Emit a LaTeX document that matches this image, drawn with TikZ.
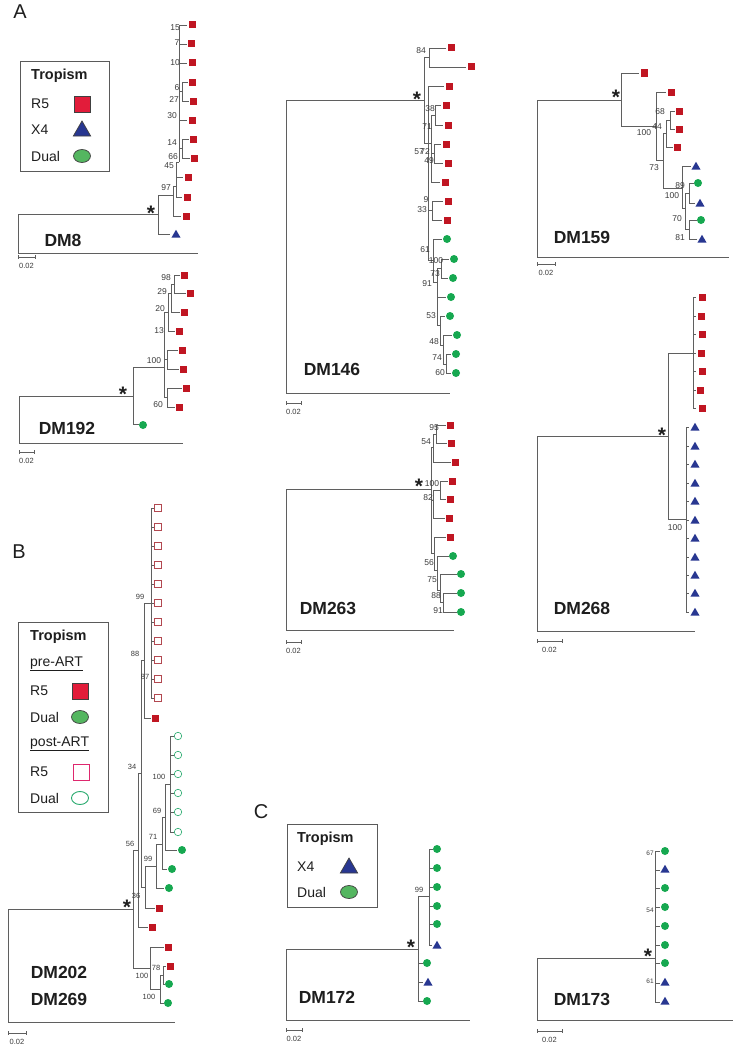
\documentclass[tikz,border=0pt]{standalone}
\usepackage{fontspec}
\setmainfont{Liberation Sans}
\usepackage{tikz}
\usetikzlibrary{shapes.geometric}

\definecolor{brgray}{RGB}{95,95,95}
\definecolor{bootgray}{RGB}{60,60,60}
\definecolor{namecol}{RGB}{30,30,30}
\definecolor{r5red}{RGB}{192,22,34}
\definecolor{x4blue}{RGB}{40,55,145}
\definecolor{dualgreen}{RGB}{22,168,80}
\definecolor{postred}{RGB}{178,72,80}
\definecolor{postgreen}{RGB}{40,170,110}
\definecolor{legred}{RGB}{226,28,58}
\definecolor{leggreen}{RGB}{84,182,96}
\definecolor{legpink}{RGB}{222,40,110}
\definecolor{legframe}{RGB}{90,90,90}

% scale bar: x, y, length, label name
\newcommand{\sbar}[4]{%
  \draw[br] (#1,#2) ++(0,-2) -- ++(0,4) ++(0,-2) -- ++(#3,0) ++(0,-2) -- ++(0,4);
  \path (#1,#2) ++(#3/2,9) node[scl] (#4) {0.02};}

\begin{document}
\begin{tikzpicture}[x=1pt,y=-1pt,
  br/.style={draw=brgray,line width=0.6pt},
  boot/.style={font=\fontsize{8.5}{8.5}\selectfont,text=bootgray,inner sep=0pt},
  bootsm/.style={font=\fontsize{7.5}{7.5}\selectfont,text=bootgray,inner sep=0pt},
  bootxs/.style={font=\fontsize{6.5}{6.5}\selectfont,text=bootgray,inner sep=0pt},
  tree/.style={font=\fontsize{17.5}{17.5}\selectfont\bfseries,text=namecol,inner sep=0pt},
  star/.style={font=\fontsize{21}{21}\selectfont\bfseries,text=namecol,inner sep=0pt},
  scl/.style={font=\fontsize{7.5}{7.5}\selectfont,text=bootgray,inner sep=0pt},
  panel/.style={font=\fontsize{20}{20}\selectfont,text=namecol,inner sep=0pt},
  r5/.style={rectangle,fill=r5red,minimum size=7pt,inner sep=0pt},
  x4/.style={regular polygon,regular polygon sides=3,fill=x4blue,minimum size=10.5pt,inner sep=0pt},
  dual/.style={circle,fill=dualgreen,minimum size=8pt,inner sep=0pt},
  r5post/.style={rectangle,draw=postred,line width=0.6pt,minimum size=6.5pt,inner sep=0pt},
  dualpost/.style={circle,draw=postgreen,line width=0.6pt,minimum size=7.5pt,inner sep=0pt},
  legbox/.style={draw=legframe,line width=0.8pt},
  legtxt/.style={font=\fontsize{14}{14}\selectfont,text=namecol,anchor=west,inner sep=0pt},
  leghead/.style={font=\fontsize{14.5}{14.5}\selectfont\bfseries,text=namecol,anchor=west,inner sep=0pt},
  legr5/.style={rectangle,fill=legred,draw=black!75,line width=0.7pt,minimum size=16pt,inner sep=0pt},
  legx4/.style={regular polygon,regular polygon sides=3,fill=x4blue,draw=black!75,line width=0.7pt,minimum size=20pt,inner sep=0pt},
  legdual/.style={ellipse,fill=leggreen,draw=black!75,line width=0.7pt,minimum width=17pt,minimum height=13pt,inner sep=0pt},
  legr5post/.style={rectangle,draw=legpink,line width=0.9pt,minimum size=16pt,inner sep=0pt},
  legdualpost/.style={ellipse,draw=postgreen,line width=0.9pt,minimum width=17pt,minimum height=13pt,inner sep=0pt}
]
\useasboundingbox[fill=white] (0,0) rectangle (738,1049);

% ---------- panel A ----------
\node[panel] (pA) at (20,12) {A};

% legend A
\draw[legbox] (20,61) rectangle (109,171);
\node[leghead] (lgA) at (31,76) {Tropism};
\node[legtxt] (lgAr) at (31,104) {R5};
\node[legtxt] (lgAx) at (31,130) {X4};
\node[legtxt] (lgAd) at (31,156) {Dual};
\node[legr5] (mkAr) at (82,104) {};
\node[legx4] (mkAx) at (82,131) {};
\node[legdual] (mkAd) at (82,156) {};

% DM8
\draw[br] (158,214) -- (18,214) -- (18,253) -- (198,253);
\draw[br] (158,195) -- (158,234) -- (170,234);
\draw[br] (158,195) -- (173,195);
\draw[br] (173,186) -- (173,216) -- (181,216);
\draw[br] (173,186) -- (176,186);
\draw[br] (176,162) -- (176,197) -- (182,197) (176,177) -- (183,177);
\draw[br] (176,162) -- (179,162) (179,25) -- (179,162);
\foreach \y in {25,44,63,120} {\draw[br] (179,\y) -- (187,\y);}
\draw[br] (179,91) -- (182,91) (182,82) -- (182,101) (182,82) -- (188,82) (182,101) -- (189,101);
\draw[br] (179,148) -- (182,148) (182,139) -- (182,158) (182,139) -- (189,139) (182,158) -- (190,158);
\foreach \x/\y [count=\i] in {192/25,191/44,192/63,192/82,193/101,192/120,193/139,194/158,188/177,187/197,186/216}
  {\node[r5] (d8s\i) at (\x,\y) {};}
\node[x4] (d8x1) at (176,235) {};
\node[star] (d8st) at (151,213) {*};
\foreach \x/\y/\t [count=\i] in {175/28/15,177/43/7,175/63/10,177/88/6,174/100/27,172/116/30,172/143/14,173/157/66,169/166/45,166/188/97}
  {\node[boot] (d8b\i) at (\x,\y) {\t};}
\node[tree] (dm8) at (63,240) {DM8};
\sbar{18}{257}{17}{sc8}

% DM192
\draw[br] (133,396) -- (19,396) -- (19,443) -- (183,443);
\draw[br] (164,367) -- (133,367) -- (133,424) -- (139,424);
\draw[br] (164,312) -- (164,397);
\draw[br] (164,312) -- (168,312) (168,293) -- (168,331) -- (175,331);
\draw[br] (168,293) -- (171,293) (171,284) -- (171,312) -- (180,312);
\draw[br] (171,284) -- (174,284) (174,275) -- (174,293) -- (186,293) (174,275) -- (180,275);
\draw[br] (164,359) -- (167,359) (167,350) -- (167,369) -- (179,369) (167,350) -- (178,350);
\draw[br] (164,397) -- (167,397) (167,388) -- (167,407) -- (175,407) (167,388) -- (182,388);
\foreach \x/\y [count=\i] in {184/275,190/293,184/312,179/331,182/350,183/369,186/388,179/407}
  {\node[r5] (d192s\i) at (\x,\y) {};}
\node[dual] (d192d1) at (143,425) {};
\node[star] (d192st) at (123,394) {*};
\foreach \x/\y/\t [count=\i] in {166/278/98,162/292/29,160/309/20,159/331/13,154/361/100,158/405/60}
  {\node[boot] (d192b\i) at (\x,\y) {\t};}
\node[tree] (dm192) at (67,428) {DM192};
\sbar{19}{452}{15}{sc192}

% DM146
\draw[br] (424,100) -- (286,100) -- (286,393) -- (450,393);
\draw[br] (424,57) -- (424,143);
\draw[br] (424,57) -- (429,57) (429,48) -- (429,67) (429,48) -- (446,48) (429,67) -- (466,67);
\draw[br] (424,143) -- (428,143) (428,86) -- (428,260) (428,86) -- (444,86);
\draw[br] (428,143) -- (431,143) (431,115) -- (431,182) -- (440,182);
\draw[br] (431,115) -- (435,115) (435,105) -- (435,125) -- (443,125) (435,105) -- (441,105);
\draw[br] (431,153) -- (434,153) (434,144) -- (434,163) -- (443,163) (434,144) -- (441,144);
\draw[br] (428,210) -- (432,210) (432,201) -- (432,220) -- (442,220) (432,201) -- (443,201);
\draw[br] (428,260) -- (433,260) (433,239) -- (433,282) (433,239) -- (442,239);
\draw[br] (433,282) -- (437,282) (437,268) -- (437,325) (437,297) -- (446,297);
\draw[br] (437,268) -- (441,268) (441,259) -- (441,278) -- (448,278) (441,259) -- (449,259);
\draw[br] (437,325) -- (440,325) (440,316) -- (440,345) (440,316) -- (445,316);
\draw[br] (440,345) -- (443,345) (443,335) -- (443,364) (443,335) -- (452,335);
\draw[br] (443,364) -- (446,364) (446,354) -- (446,373) -- (451,373) (446,354) -- (451,354);
\foreach \x/\y [count=\i] in {451/48,471/67,449/86,446/105,448/125,446/144,448/163,445/182,448/201,447/220}
  {\node[r5] (d146s\i) at (\x,\y) {};}
\foreach \x/\y [count=\i] in {447/239,454/259,453/278,451/297,450/316,457/335,456/354,456/373}
  {\node[dual] (d146d\i) at (\x,\y) {};}
\node[star] (d146st) at (417,99) {*};
\foreach \x/\y/\t [count=\i] in {421/51/84,430/109/38,427/127/71,419/152/57,425/152/72,429/161/49,426/200/9,422/210/33,
  425/250/61,436/261/100,435/274/73,427/284/91,431/316/53,434/342/48,437/358/74,440/373/60}
  {\node[boot] (d146b\i) at (\x,\y) {\t};}
\node[tree] (dm146) at (332,369) {DM146};
\sbar{286}{403}{15}{sc146}

% DM263
\draw[br] (431,489) -- (286,489) -- (286,630) -- (454,630);
\draw[br] (431,447) -- (431,553);
\draw[br] (431,447) -- (433,447) (433,434) -- (433,462) -- (451,462);
\draw[br] (433,434) -- (436,434) (436,425) -- (436,443) -- (447,443) (436,425) -- (446,425);
\draw[br] (431,500) -- (433,500) (433,490) -- (433,518) -- (445,518);
\draw[br] (433,490) -- (440,490) (440,481) -- (440,499) -- (446,499) (440,481) -- (448,481);
\draw[br] (431,553) -- (434,553) (434,537) -- (434,570) (434,537) -- (446,537);
\draw[br] (434,570) -- (437,570) (437,556) -- (437,590) (437,556) -- (449,556);
\draw[br] (437,590) -- (440,590) (440,574) -- (440,602) (440,574) -- (457,574);
\draw[br] (440,602) -- (443,602) (443,593) -- (443,612) -- (457,612) (443,593) -- (457,593);
\foreach \x/\y [count=\i] in {450/425,451/443,455/462,452/481,450/499,449/518,450/537}
  {\node[r5] (d263s\i) at (\x,\y) {};}
\foreach \x/\y [count=\i] in {453/556,461/574,461/593,461/612}
  {\node[dual] (d263d\i) at (\x,\y) {};}
\node[star] (d263st) at (419,486) {*};
\foreach \x/\y/\t [count=\i] in {434/428/95,426/442/54,432/484/100,428/498/82,429/563/56,432/580/75,436/596/88,438/611/91}
  {\node[boot] (d263b\i) at (\x,\y) {\t};}
\node[tree] (dm263) at (328,608) {DM263};
\sbar{286}{642}{15}{sc263}

% DM159
\draw[br] (621,100) -- (537,100) -- (537,257) -- (729,257);
\draw[br] (621,73) -- (621,126) -- (656,126) (621,73) -- (639,73);
\draw[br] (656,92) -- (656,160) -- (663,160) (656,92) -- (666,92);
\draw[br] (663,133) -- (663,188);
\draw[br] (663,133) -- (666,133) (666,120) -- (666,147) -- (673,147);
\draw[br] (666,120) -- (670,120) (670,111) -- (670,129) -- (675,129) (670,111) -- (675,111);
\draw[br] (663,188) -- (682,188) (682,166) -- (682,208) (682,166) -- (691,166);
\draw[br] (682,208) -- (685,208) (685,193) -- (685,229);
\draw[br] (685,193) -- (689,193) (689,183) -- (689,203) -- (695,203) (689,183) -- (694,183);
\draw[br] (685,229) -- (689,229) (689,220) -- (689,239) -- (697,239) (689,220) -- (697,220);
\foreach \x/\y [count=\i] in {644/73,671/92,679/111,679/129,677/147}
  {\node[r5] (d159s\i) at (\x,\y) {};}
\foreach \x/\y [count=\i] in {696/167,700/204,702/240}
  {\node[x4] (d159x\i) at (\x,\y) {};}
\foreach \x/\y [count=\i] in {698/183,701/220}
  {\node[dual] (d159d\i) at (\x,\y) {};}
\node[star] (d159st) at (616,97) {*};
\foreach \x/\y/\t [count=\i] in {660/112/68,657/127/44,644/133/100,654/168/73,680/186/89,672/196/100,677/219/70,680/238/81}
  {\node[boot] (d159b\i) at (\x,\y) {\t};}
\node[tree] (dm159) at (582,237) {DM159};
\sbar{537}{264}{18}{sc159}

% DM268
\draw[br] (668,436) -- (537,436) -- (537,631) -- (695,631);
\draw[br] (668,353) -- (668,519);
\draw[br] (668,353) -- (693,353) (693,297) -- (693,408);
\draw[br] (668,519) -- (686,519) (686,427) -- (686,612);
\foreach \x/\y [count=\i] in {702/297,701/316,702/334,701/353,702/371,700/390,702/408}
  {\draw[br] (693,\y) -- (696,\y); \node[r5] (d268s\i) at (\x,\y) {};}
\foreach \y [count=\i] in {427,446,464,483,501,520,538,557,575,593,612}
  {\draw[br] (686,\y) -- (689,\y); \node[x4] (d268x\i) at (695,\y+1) {};}
\node[star] (d268st) at (662,435) {*};
\node[boot] (d268b1) at (675,528) {100};
\node[tree] (dm268) at (582,608) {DM268};
\sbar{537}{641}{25}{sc268}

% ---------- panel B ----------
\node[panel] (pB) at (19,552) {B};

% legend B
\draw[legbox] (18,622) rectangle (108,812);
\node[leghead] (lgB) at (30,637) {Tropism};
\node[legtxt] (lgBpre) at (30,664) {\underline{pre-ART}};
\node[legtxt] (lgBr) at (30,691) {R5};
\node[legtxt] (lgBd) at (30,717) {Dual};
\node[legtxt] (lgBpost) at (30,744) {\underline{post-ART}};
\node[legtxt] (lgBr2) at (30,772) {R5};
\node[legtxt] (lgBd2) at (30,798) {Dual};
\node[legr5] (mkBr) at (80,691) {};
\node[legdual] (mkBd) at (80,717) {};
\node[legr5post] (mkBr2) at (81,772) {};
\node[legdualpost] (mkBd2) at (80,798) {};

% DM202 / DM269
\draw[br] (133,909) -- (8,909) -- (8,1022) -- (175,1022);
\draw[br] (133,850) -- (133,968);
\draw[br] (133,850) -- (138,850) (138,773) -- (138,927) -- (148,927);
\draw[br] (138,773) -- (141,773) (141,660) -- (141,887);
\draw[br] (141,660) -- (144,660) (144,603) -- (144,718) -- (151,718);
\draw[br] (144,603) -- (151,603) (151,508) -- (151,698);
\draw[br] (141,887) -- (145,887) (145,866) -- (145,908) -- (155,908);
\draw[br] (145,866) -- (156,866) (156,844) -- (156,888) -- (164,888);
\draw[br] (156,844) -- (162,844) (162,817) -- (162,869) -- (167,869);
\draw[br] (162,817) -- (165,817) (165,784) -- (165,850) -- (177,850);
\draw[br] (165,784) -- (170,784) (170,736) -- (170,832);
\draw[br] (133,968) -- (150,968) (150,947) -- (150,989) (150,947) -- (164,947);
\draw[br] (150,989) -- (160,989) (160,975) -- (160,1003) -- (164,1003);
\draw[br] (160,975) -- (163,975) (163,966) -- (163,984) -- (165,984) (163,966) -- (166,966);
\foreach \y [count=\i] in {508,527,546,565,584,603,622,641,660,679,698}
  {\draw[br] (151,\y) -- (154,\y); \node[r5post] (d202o\i) at (158,\y) {};}
\foreach \y [count=\i] in {736,755,774,793,812,832}
  {\draw[br] (170,\y) -- (174,\y); \node[dualpost] (d202c\i) at (178,\y) {};}
\foreach \x/\y [count=\i] in {155/718,159/908,152/927,168/947,170/966}
  {\node[r5] (d202s\i) at (\x,\y) {};}
\foreach \x/\y [count=\i] in {182/850,172/869,169/888,169/984,168/1003}
  {\node[dual] (d202d\i) at (\x,\y) {};}
\node[star] (d202st) at (127,907) {*};
\foreach \x/\y/\t [count=\i] in {140/597/99,135/654/88,145/677/87,132/767/34,159/777/100,157/811/69,153/837/71,
  130/844/56,148/859/99,136/896/36,156/968/78,142/976/100,149/997/100}
  {\node[bootsm] (d202b\i) at (\x,\y) {\t};}
\node[tree] (dm202) at (59,972) {DM202};
\node[tree] (dm269) at (59,999) {DM269};
\sbar{8}{1033}{18}{sc202}

% ---------- panel C ----------
\node[panel] (pC) at (261,812) {C};

% legend C
\draw[legbox] (287,824) rectangle (377,907);
\node[leghead] (lgC) at (297,839) {Tropism};
\node[legtxt] (lgCx) at (297,867) {X4};
\node[legtxt] (lgCd) at (297,892) {Dual};
\node[legx4] (mkCx) at (349,868) {};
\node[legdual] (mkCd) at (349,892) {};

% DM172
\draw[br] (418,949) -- (286,949) -- (286,1020) -- (470,1020);
\draw[br] (418,896) -- (418,1001);
\draw[br] (418,896) -- (429,896) (429,849) -- (429,945);
\foreach \y [count=\i] in {849,868,887,906,924}
  {\draw[br] (429,\y) -- (433,\y); \node[dual] (d172d\i) at (437,\y) {};}
\draw[br] (429,945) -- (432,945);
\node[x4] (d172x1) at (437,946) {};
\draw[br] (418,963) -- (423,963) (418,982) -- (423,982) (418,1001) -- (423,1001);
\node[dual] (d172d6) at (427,963) {};
\node[x4] (d172x2) at (428,983) {};
\node[dual] (d172d7) at (427,1001) {};
\node[star] (d172st) at (411,947) {*};
\node[bootsm] (d172b1) at (419,890) {99};
\node[tree] (dm172) at (327,997) {DM172};
\sbar{286}{1030}{16}{sc172}

% DM173
\draw[br] (655,958) -- (537,958) -- (537,1020) -- (733,1020);
\draw[br] (655,852) -- (655,1002);
\foreach \y/\s [count=\i] in {851/dual,870/x4,888/dual,907/dual,926/dual,945/dual,963/dual,983/x4,1002/x4}
  {\draw[br] (655,\y) -- (660,\y); \node[\s] (d173t\i) at (665,\y) {};}
\node[star] (d173st) at (648,956) {*};
\foreach \x/\y/\t [count=\i] in {650/853/67,650/910/54,650/981/61}
  {\node[bootxs] (d173b\i) at (\x,\y) {\t};}
\node[tree] (dm173) at (582,999) {DM173};
\sbar{537}{1031}{25}{sc173}
\end{tikzpicture}
\end{document}
